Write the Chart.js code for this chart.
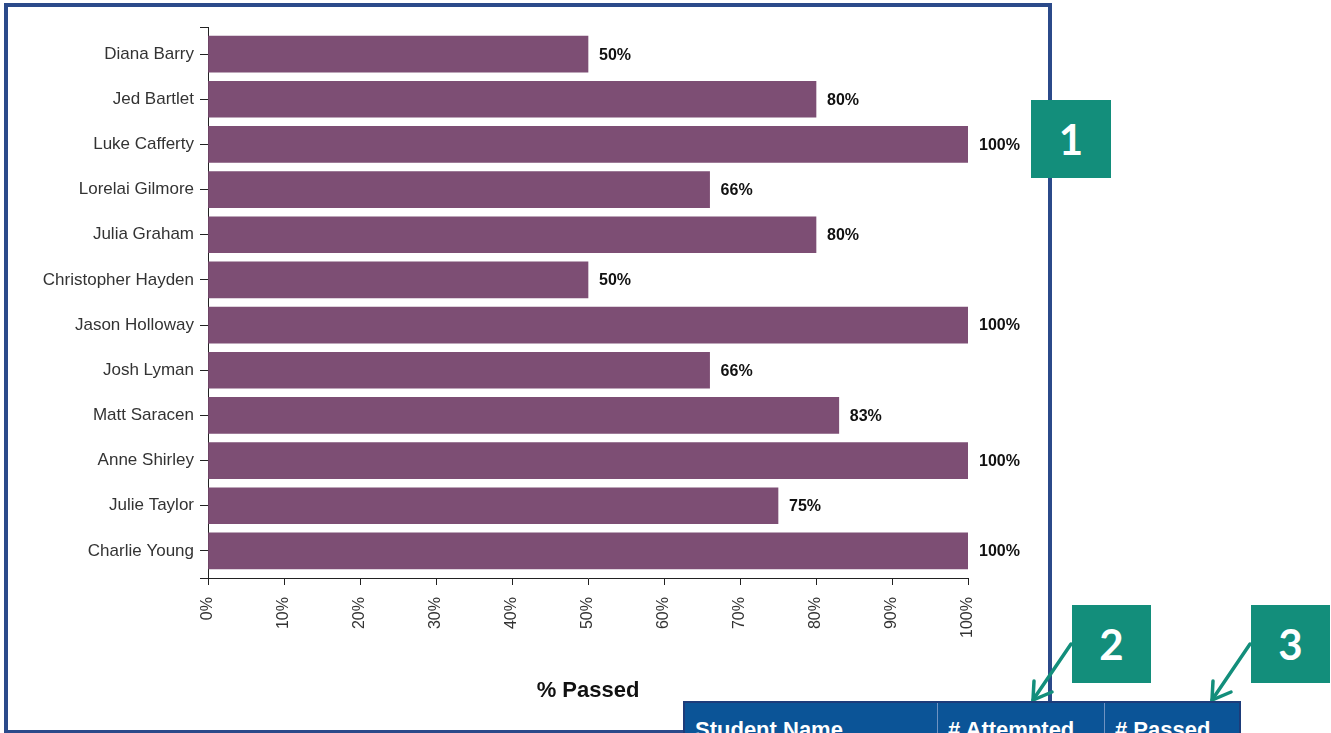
<!DOCTYPE html>
<html>
<head>
<meta charset="utf-8">
<script src="https://cdn.jsdelivr.net/npm/chart.js@4/dist/chart.umd.min.js"></script>
<style>
    html, body { margin: 0; padding: 0; background: #fff; overflow: hidden; }
    #page { position: relative; width: 1331px; height: 733px; overflow: hidden; }
    #frame { position: absolute; left: 4px; top: 3px; width: 1048px; height: 731px; box-sizing: border-box; border: 4px solid #2b4a8a; }
    #chart-wrap { position: absolute; left: 0; top: 0; width: 1331px; height: 733px; }
    .callout { position: absolute; width: 79px; height: 78px; background: #138e7b; color: #fff;
        font: 700 42px Lato, "Open Sans", sans-serif; display: flex; align-items: center; justify-content: center; }
    #table-head { position: absolute; left: 683px; top: 701px; width: 558px; height: 50px; box-sizing: border-box;
        background: #0b5497; border: 2px solid #1d3c7a; display: flex; color: #fff;
        font: 700 22px "Liberation Sans", Arial, sans-serif; }
    #table-head div { padding: 14px 0 0 10px; box-sizing: border-box; }
    #table-head .c1 { width: 253px; border-right: 1px solid #6f93c2; }
    #table-head .c2 { width: 167px; border-right: 1px solid #6f93c2; }
    #arrows { position: absolute; left: 0; top: 0; }
</style>
</head>
<body>
<div id="page">
    <div id="frame"></div>
    <div id="chart-wrap"><canvas id="passed-chart" width="1331" height="733"></canvas></div>
    <div class="callout" style="left:1031px; top:100px; width:80px;">1</div>
    <div class="callout" style="left:1072px; top:605px;">2</div>
    <div class="callout" style="left:1251px; top:605px;">3</div>
    <svg id="arrows" width="1331" height="733">
        <g stroke="#138e7b" stroke-width="3.5" fill="none" stroke-linecap="round">
            <line x1="1071" y1="644" x2="1033" y2="700"/>
            <polyline points="1034,681 1033,700 1052,692"/>
            <line x1="1250" y1="644" x2="1212" y2="700"/>
            <polyline points="1213,681 1212,700 1231,692"/>
        </g>
    </svg>
    <div id="table-head">
        <div class="c1">Student Name</div>
        <div class="c2"># Attempted</div>
        <div class="c3"># Passed</div>
    </div>
</div>
<script>
const students = ["Diana Barry", "Jed Bartlet", "Luke Cafferty", "Lorelai Gilmore", "Julia Graham",
    "Christopher Hayden", "Jason Holloway", "Josh Lyman", "Matt Saracen", "Anne Shirley",
    "Julie Taylor", "Charlie Young"];
const passedPct = [50, 80, 100, 66, 80, 50, 100, 66, 83, 100, 75, 100];
const xTicks = [0, 10, 20, 30, 40, 50, 60, 70, 80, 90, 100];

const axisColor = "#222";

// 막대 끝에 % 값 표시
const valueLabels = {
    id: "valueLabels",
    afterDatasetsDraw(chart) {
        const ctx = chart.ctx;
        const meta = chart.getDatasetMeta(0);
        ctx.save();
        ctx.font = "bold 16px 'Liberation Sans', Arial, sans-serif";
        ctx.fillStyle = "#111";
        ctx.textAlign = "left";
        ctx.textBaseline = "middle";
        meta.data.forEach((bar, i) => {
            ctx.fillText(passedPct[i] + "%", bar.x + 11, bar.y + 1);
        });
        ctx.restore();
    }
};

new Chart(document.querySelector("#passed-chart"), {
    type: "bar",
    data: {
        datasets: [{
            label: "% Passed",
            data: passedPct.map((v, i) => ({x: v, y: i})),
            backgroundColor: "#7d4e74",
            barThickness: 36
        }]
    },
    options: {
        indexAxis: "y",
        responsive: false,
        animation: false,
        layout: {padding: {left: 0, right: 363, top: 27, bottom: 29}},
        plugins: {legend: {display: false}, tooltip: {enabled: false}},
        scales: {
            y: {
                type: "linear",
                reverse: true,
                offset: false,
                min: -0.6,
                max: 11.6,
                afterBuildTicks: s => { s.ticks = [-0.6, ...students.map((_, i) => i), 11.6].map(v => ({value: v})); },
                afterFit: s => { s.width = 208; },
                ticks: {
                    autoSkip: false,
                    padding: 6,
                    color: "#333",
                    font: {family: "'Liberation Sans', Arial, sans-serif", size: 17},
                    callback: v => students[v] ?? ""
                },
                grid: {offset: false, drawOnChartArea: false, tickLength: 8, color: axisColor, tickColor: axisColor},
                border: {color: axisColor, width: 1}
            },
            x: {
                type: "linear",
                min: 0,
                max: 100,
                afterBuildTicks: s => { s.ticks = xTicks.map(v => ({value: v})); },
                afterFit: s => { s.height = 126; },
                ticks: {
                    autoSkip: false,
                    minRotation: 90,
                    maxRotation: 90,
                    padding: 12,
                    color: "#333",
                    font: {family: "'Liberation Sans', Arial, sans-serif", size: 16},
                    callback: v => v + "%"
                },
                grid: {drawOnChartArea: false, tickLength: 7, color: axisColor, tickColor: axisColor},
                border: {color: axisColor, width: 1},
                title: {
                    display: true,
                    text: "% Passed",
                    color: "#111",
                    padding: 0,
                    font: {family: "'Liberation Sans', Arial, sans-serif", size: 22, weight: "bold"}
                }
            }
        }
    },
    plugins: [valueLabels]
});
</script>
</body>
</html>
